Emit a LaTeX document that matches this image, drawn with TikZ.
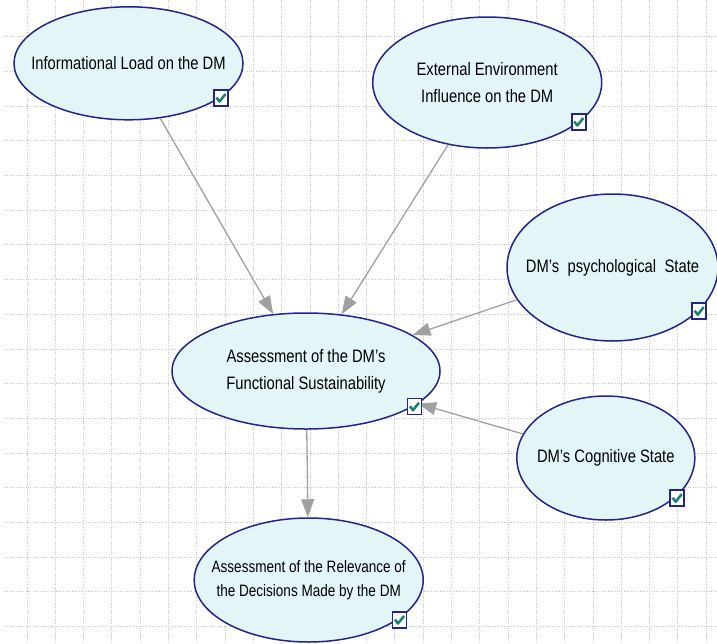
\documentclass[tikz,border=0pt]{standalone}
\usepackage{fontspec}
\setmainfont[FakeStretch=0.82]{Liberation Sans}
\usetikzlibrary{shapes.geometric,arrows.meta}
\definecolor{navy}{RGB}{36,36,140}
\definecolor{fillc}{RGB}{226,245,247}
\definecolor{gridc}{RGB}{200,200,200}
\definecolor{arrc}{RGB}{160,160,160}
\definecolor{tealc}{RGB}{20,130,115}
\begin{document}
\begin{tikzpicture}[x=1pt,y=-1pt,
  gridline/.style={draw=gridc, line width=0.9pt, dash pattern=on 1pt off 1.3pt},
  bnode/.style={ellipse, draw=navy, line width=1.5pt, fill=fillc, inner sep=0pt},
  btext/.style={align=center, inner sep=0pt, font=\fontsize{18}{27}\selectfont},
  stext/.style={align=center, inner sep=0pt, font=\fontsize{16.5}{24}\selectfont},
  chk/.style={rectangle, draw=navy, line width=1.5pt, fill=white, minimum width=14pt,
    minimum height=16pt, inner sep=0pt,
    path picture={\draw[tealc, line width=2.5pt, line join=round]
      ([shift={(-4.5pt,0.5pt)}]path picture bounding box.center) -- ++(3pt,-4pt) -- ++(6pt,7.5pt);}},
  link/.style={draw=arrc, line width=1.3pt, -{Triangle[length=18pt,width=13pt]}}]
\useasboundingbox (0,0) rectangle (717,643);
\clip (0,0) rectangle (717,643);
% grid
\foreach \i in {0,...,24} \draw[gridline] ({27+28.3*\i},0) -- ({27+28.3*\i},643);
\foreach \j in {0,...,17} \draw[gridline] (5,{36.7+34.7*\j}) -- (717,{36.7+34.7*\j});
% nodes
\node[bnode, minimum width=229pt, minimum height=113pt,
  label={[btext]center:Informational Load on the DM}] (e1) at (128.5,63.3) {};
\node[bnode, minimum width=229pt, minimum height=131pt,
  label={[btext]center:External Environment\\Influence on the DM}] (e2) at (487.2,82.5) {};
\node[bnode, minimum width=268pt, minimum height=116pt,
  label={[btext]center:Assessment of the DM's\\Functional Sustainability}] (e3) at (306,371) {};
\node[bnode, minimum width=211pt, minimum height=147pt,
  label={[btext]center:DM's\hspace{8.4pt}psychological\hspace{8.4pt}State}] (e4) at (612.5,267.5) {};
\node[bnode, minimum width=178pt, minimum height=124pt,
  label={[btext]center:DM's Cognitive State}] (e5) at (605.8,458) {};
\node[bnode, minimum width=229pt, minimum height=124pt,
  label={[stext]center:Assessment of the Relevance of\\the Decisions Made by the DM}] (e6) at (308.7,580) {};
% connectors
\draw[link] (e1) -- (e3);
\draw[link] (e2) -- (e3);
\draw[link] (e4) -- (e3);
\draw[link] (e5) -- (e3);
\draw[link] (e3) -- (e6);
% check boxes
\node[chk] (c1) at (221,98) {};
\node[chk] (c2) at (578.8,122) {};
\node[chk] (c3) at (414.5,406.7) {};
\node[chk] (c4) at (699.2,311.2) {};
\node[chk] (c5) at (677.2,498.2) {};
\node[chk] (c6) at (399.5,620) {};
\end{tikzpicture}
\end{document}
